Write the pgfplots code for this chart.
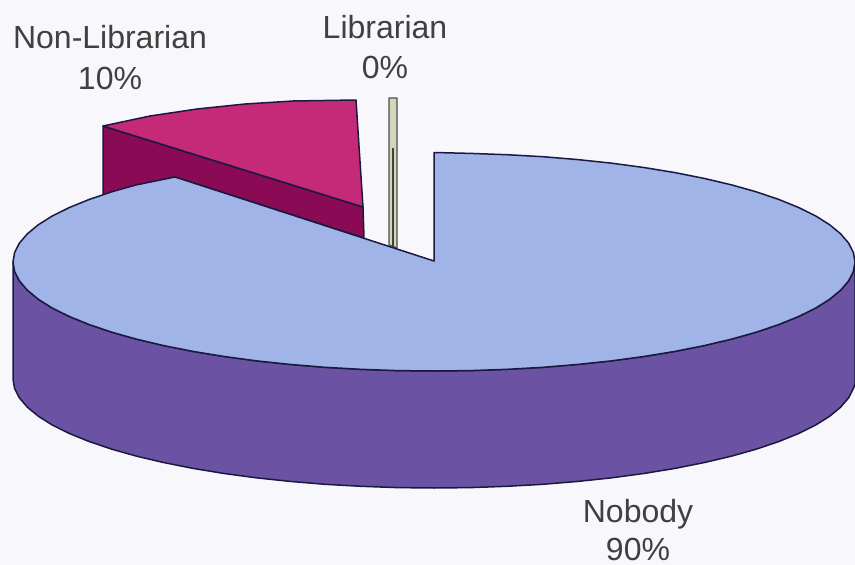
\documentclass[border=0pt]{standalone}
\usepackage{pgfplots}
\pgfplotsset{compat=1.18}
\usepackage{fontspec}
\setmainfont{Liberation Sans}
\definecolor{paper}{HTML}{F8F7FC}
\definecolor{nobodytop}{HTML}{A0B4E8}
\definecolor{nobodyside}{HTML}{6B52A3}
\definecolor{nonlibtop}{HTML}{C42A78}
\definecolor{nonlibside}{HTML}{8A0A55}
\definecolor{libfill}{HTML}{D4D6BC}
\definecolor{edge}{HTML}{1A1A40}
\tikzset{lab/.style={font=\fontsize{32}{36}\selectfont, text=black!75, inner sep=0pt, anchor=center}}
\begin{document}
\begin{tikzpicture}
\begin{axis}[
    scale only axis,
    width=855pt,
    height=565pt,
    xmin=0, xmax=855,
    ymin=0, ymax=565,
    y dir=reverse,
    hide axis,
    no markers,
    every axis plot/.append style={line width=1.5pt, line join=round},
]
% paper
\addplot[draw=none, fill=paper] coordinates {(0,0) (855,0) (855,565) (0,565)} --cycle;
% Non-Librarian slice: side, then top
\addplot[draw=edge, fill=nonlibside] coordinates {(103,126) (363,207) (364,238) (175,177) (103,196)} --cycle;
\addplot[draw=edge, fill=nonlibtop] coordinates {(103,126) (150,116) (197,109) (245,104) (293,101) (356,100) (363,207)} --cycle;
% Librarian slice
\addplot[draw=black!70, fill=libfill, line width=1.2pt] coordinates {(389,98) (397,98) (397,248) (389,245)} --cycle;
\addplot[draw=black!75, line width=2.5pt] coordinates {(393,148) (393,246)};
% Nobody slice: side wall
\addplot[draw=edge, fill=nobodyside] coordinates {
  (13,262) (14.6,271.5) (19.4,280.9) (27.4,290.2) (38.4,299.3) (52.4,308.1) (69.4,316.5) (89.1,324.5)
  (111.5,332.1) (136.3,339.1) (163.4,345.5) (192.5,351.3) (223.5,356.4) (256.1,360.8) (290,364.4) (325,367.3)
  (360.9,369.3) (397.3,370.6) (434,371) (470.7,370.6) (507.1,369.3) (543,367.3) (578,364.4) (611.9,360.8)
  (644.5,356.4) (675.5,351.3) (704.6,345.5) (731.7,339.1) (756.5,332.1) (778.9,324.5) (798.6,316.5) (815.6,308.1)
  (829.6,299.3) (840.6,290.2) (848.6,280.9) (853.4,271.5) (855,262)
  (855,384) (853.4,388.5) (848.6,397.9) (840.6,407.2) (829.6,416.3) (815.6,425.1) (798.6,433.5) (778.9,441.5)
  (756.5,449.1) (731.7,456.1) (704.6,462.5) (675.5,468.3) (644.5,473.4) (611.9,477.8) (578,481.4) (543,484.3)
  (507.1,486.3) (470.7,487.6) (434,488) (397.3,487.6) (360.9,486.3) (325,484.3) (290,481.4) (256.1,477.8)
  (223.5,473.4) (192.5,468.3) (163.4,462.5) (136.3,456.1) (111.5,449.1) (89.1,441.5) (69.4,433.5) (52.4,425.1)
  (38.4,416.3) (27.4,407.2) (19.4,397.9) (14.6,388.5) (13,379)
} --cycle;
% Nobody slice: top
\addplot[draw=edge, fill=nobodytop] coordinates {
  (434,152.5) (470.7,153.4) (507.1,154.7) (543,156.7) (578,159.6) (611.9,163.2) (644.5,167.6) (675.5,172.7)
  (704.6,178.5) (731.7,184.9) (756.5,191.9) (778.9,199.5) (798.6,207.5) (815.6,215.9) (829.6,224.7) (840.6,233.8)
  (848.6,243.1) (853.4,252.5) (855,262)
  (853.4,271.5) (848.6,280.9) (840.6,290.2) (829.6,299.3) (815.6,308.1) (798.6,316.5) (778.9,324.5) (756.5,332.1)
  (731.7,339.1) (704.6,345.5) (675.5,351.3) (644.5,356.4) (611.9,360.8) (578,364.4) (543,367.3) (507.1,369.3)
  (470.7,370.6) (434,371) (397.3,370.6) (360.9,369.3) (325,367.3) (290,364.4) (256.1,360.8) (223.5,356.4)
  (192.5,351.3) (163.4,345.5) (136.3,339.1) (111.5,332.1) (89.1,324.5) (69.4,316.5) (52.4,308.1) (38.4,299.3)
  (27.4,290.2) (19.4,280.9) (14.6,271.5) (13,262)
  (14.6,252.5) (19.4,243.1) (27.4,233.8) (38.4,224.7) (52.4,215.9) (69.4,207.5) (89.1,199.5) (111.5,191.9)
  (136.3,184.9) (175,177)
  (434,261)
} --cycle;
% labels
\node[lab] at (axis cs:110,37) {Non-Librarian};
\node[lab] at (axis cs:110,78) {10\%};
\node[lab] at (axis cs:385,27) {Librarian};
\node[lab] at (axis cs:385,67) {0\%};
\node[lab] at (axis cs:638,514) {Nobody};
\node[lab] at (axis cs:638,549) {90\%};
\end{axis}
\end{tikzpicture}
\end{document}
